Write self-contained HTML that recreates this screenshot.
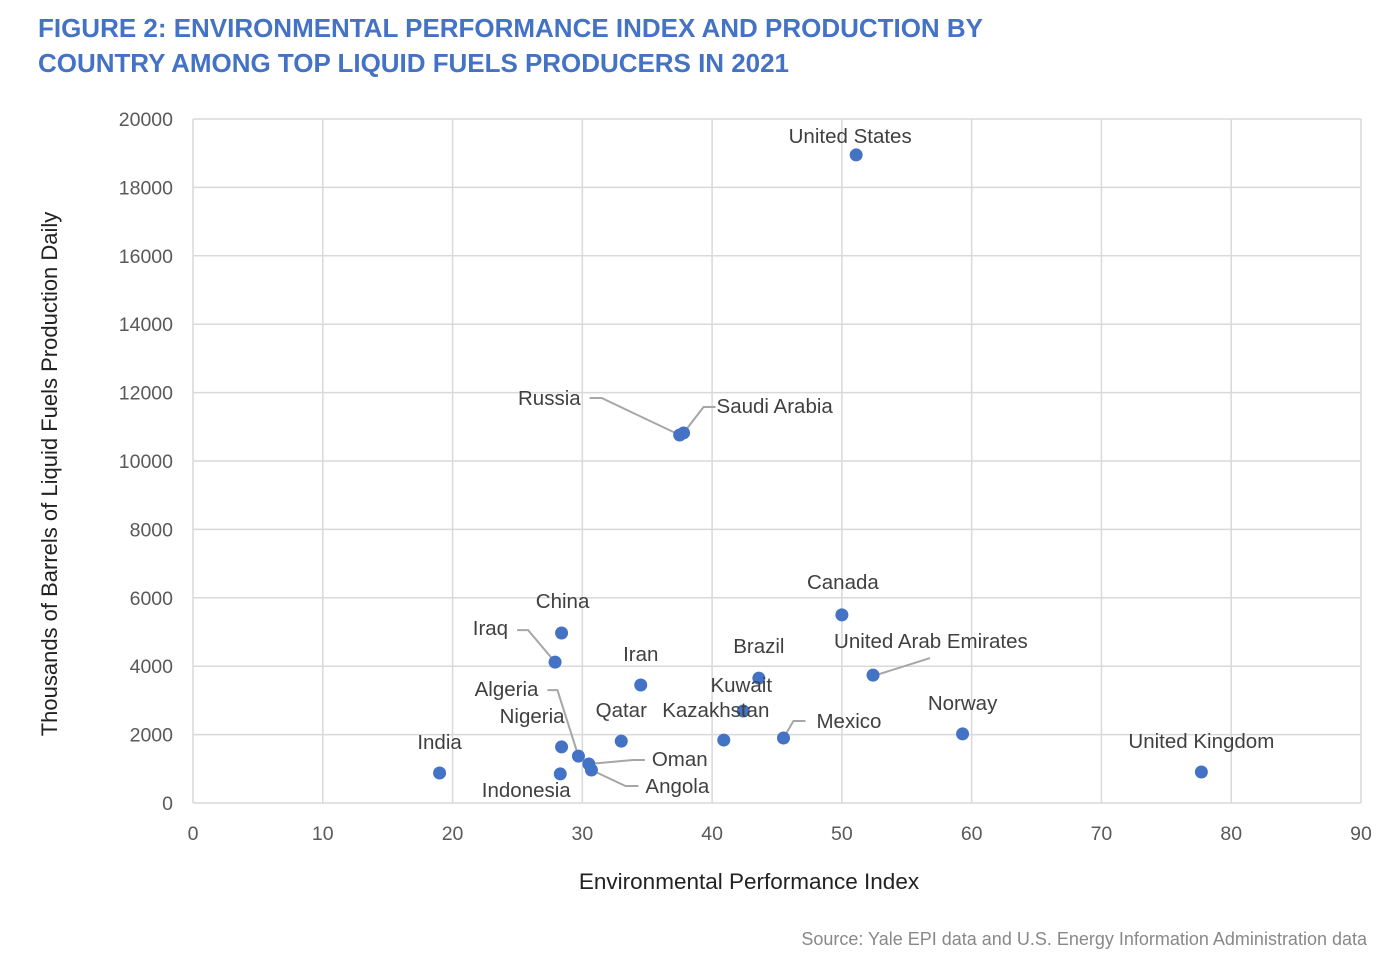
<!DOCTYPE html>
<html><head><meta charset="utf-8">
<style>
body{margin:0;background:#fff;width:1388px;height:956px;overflow:hidden;font-family:"Liberation Sans",sans-serif}
svg{position:absolute;left:0;top:0}
</style></head><body>
<svg width="1388" height="956">
<text x="38" y="37" font-size="26" font-weight="bold" fill="#4472c4" textLength="945">FIGURE 2: ENVIRONMENTAL PERFORMANCE INDEX AND PRODUCTION BY</text>
<text x="38" y="72" font-size="26" font-weight="bold" fill="#4472c4" textLength="751">COUNTRY AMONG TOP LIQUID FUELS PRODUCERS IN 2021</text>
<g id="grid"></g><g id="ticks"></g><g id="leaders"></g><g id="points"></g><g id="labels"></g>
<text x="749" y="889" font-size="22.5" text-anchor="middle" fill="#222">Environmental Performance Index</text>
<text transform="translate(57,474) rotate(-90)" font-size="22" text-anchor="middle" fill="#222">Thousands of Barrels of Liquid Fuels Production Daily</text>
<text x="1367" y="945" font-size="18" text-anchor="end" fill="#888">Source: Yale EPI data and U.S. Energy Information Administration data</text>
</svg>
<script>
const countries=["United States","Saudi Arabia","Russia","Canada","China","Iraq","Iran","Brazil","United Arab Emirates","Kuwait","Kazakhstan","Mexico","Norway","United Kingdom","India","Qatar","Nigeria","Algeria","Oman","Angola","Indonesia"];
const epi=[51.1,37.8,37.5,50.0,28.4,27.9,34.5,43.6,52.4,42.4,40.9,45.5,59.3,77.7,19.0,33.0,28.4,29.7,30.5,30.7,28.3];
const production=[18950,10820,10760,5500,4970,4120,3450,3650,3740,2690,1840,1900,2020,906,877,1810,1640,1370,1140,965,850];
const xTicks=[0,10,20,30,40,50,60,70,80,90];
const yTicks=[0,2000,4000,6000,8000,10000,12000,14000,16000,18000,20000];
const labelLayout={
"United States":[-6,-12,"middle"],"Saudi Arabia":[33,-20,"start",[[32,-26],[20,-26],[0,0]]],
"Russia":[-99,-30,"end",[[-90,-37],[-78,-37],[0,0]]],"Canada":[1,-26,"middle"],"China":[1,-25,"middle"],
"Iraq":[-47,-27,"end",[[-38,-32],[-27,-32],[0,0]]],"Iran":[0,-24,"middle"],"Brazil":[0,-25,"middle"],
"United Arab Emirates":[-39,-27,"start",[[57,-17],[3,0]]],"Kuwait":[-2,-19,"middle"],"Kazakhstan":[-8,-23,"middle"],
"Mexico":[33,-10,"start",[[22,-17],[10,-17],[0,0]]],"Norway":[0,-24,"middle"],"United Kingdom":[0,-24,"middle"],
"India":[0,-24,"middle"],"Qatar":[0,-24,"middle"],"Nigeria":[3,-24,"end"],
"Algeria":[-40,-60,"end",[[-31,-66],[-21,-66],[0,0]]],"Oman":[63,2,"start",[[56,-4],[44,-4],[0,0]]],
"Angola":[54,23,"start",[[47,16],[34,16],[0,0]]],"Indonesia":[-34,23,"middle"]};
const X0=193,X1=1361,Y0=803,Y1=119;
const sx=v=>X0+(v-0)/90*(X1-X0), sy=v=>Y0-(v/20000)*(Y0-Y1);
const NS="http://www.w3.org/2000/svg";
function mk(t,a,p){const e=document.createElementNS(NS,t);for(const k in a)e.setAttribute(k,a[k]);document.getElementById(p).appendChild(e);return e;}
xTicks.forEach(t=>{const l=mk("line",{x1:sx(t),x2:sx(t),y1:Y1,y2:Y0,stroke:"#d9d9d9","stroke-width":1.5},"grid");

const tx=mk("text",{x:sx(t),y:Y0+37,"font-size":19.5,"text-anchor":"middle",fill:"#595959"},"ticks");tx.textContent=t;
});
yTicks.forEach(t=>{const l=mk("line",{x1:X0,x2:X1,y1:sy(t),y2:sy(t),stroke:"#d9d9d9","stroke-width":1.5},"grid");

const tx=mk("text",{x:X0-20,y:sy(t)+7,"font-size":19.5,"text-anchor":"end",fill:"#595959"},"ticks");tx.textContent=t;
});
countries.forEach((c,i)=>{const x=sx(epi[i]),y=sy(production[i]);
const p=mk("circle",{cx:x,cy:y,r:6.5,fill:"#4472c4"},"points");

const L=labelLayout[c];
const tx=mk("text",{x:x+L[0],y:y+L[1],"font-size":20.5,"text-anchor":L[2],fill:"#404040"},"labels");tx.textContent=c;

if(L[3]){const pts=L[3].map(q=>(x+q[0])+","+(y+q[1])).join(" ");
const pl=mk("polyline",{points:pts,fill:"none",stroke:"#a6a6a6","stroke-width":2},"leaders");
}});
</script>
</body></html>
